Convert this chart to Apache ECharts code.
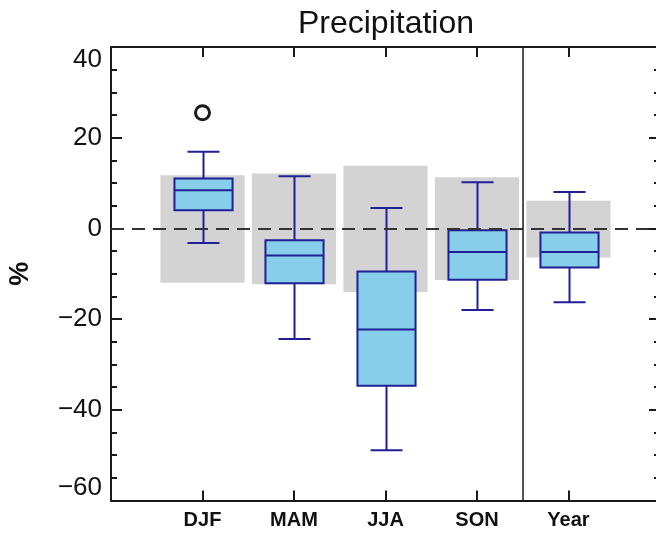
<!DOCTYPE html>
<html>
<head>
<meta charset="utf-8">
<title>Precipitation</title>
<script src="https://cdn.jsdelivr.net/npm/echarts@6/dist/echarts.min.js"></script>
<style>
  html, body { margin: 0; padding: 0; background: #ffffff; }
  #chart { width: 656px; height: 534px; }
</style>
</head>
<body>
<div id="chart"></div>
<script>
// Seasonal precipitation change (%) — box statistics per season
const categories = ['DJF', 'MAM', 'JJA', 'SON', 'Year'];

// Grey band: range of natural variability
const rangeLow  = [-12.0, -12.3, -14.0, -11.4, -6.4];
const rangeHigh = [ 11.7,  12.1,  13.8,  11.3,  6.1];

// Box-and-whisker statistics
const whiskerLow  = [ -3.2, -24.4, -48.9, -18.0, -16.3];
const quartile1   = [  4.0, -12.1, -34.7, -11.3,  -8.6];
const median      = [  8.4,  -6.0, -22.3,  -5.2,  -5.2];
const quartile3   = [ 11.0,  -2.6,  -9.5,  -0.4,  -0.9];
const whiskerHigh = [ 16.9,  11.5,   4.5,  10.2,   8.0];

// Outliers: [category index, value]
const outliers = [[0, 25.5]];

const yTicks = { min: -60, max: 40, interval: 20 };

const FONT = 'Liberation Sans, Arial, Helvetica, sans-serif';
const BOX_FILL = '#87ceeb';
const BOX_STROKE = '#1f1f96';
const BAND_FILL = '#d3d3d3';
const AXIS_COLOR = '#1a1a1a';
const BOX_WIDTH = 0.635;
const CAP_WIDTH = 0.35;
const BAND_WIDTH = 0.92;

const bandData = categories.map((c, i) => [i + 1, rangeLow[i], rangeHigh[i]]);
const boxData = categories.map((c, i) => [i + 1, whiskerLow[i], quartile1[i], median[i], quartile3[i], whiskerHigh[i]]);
const outlierData = outliers.map(o => [o[0] + 1, o[1]]);

function renderBand(params, api) {
  const x = api.value(0);
  const lo = api.coord([x, api.value(1)]);
  const hi = api.coord([x, api.value(2)]);
  const w = api.size([BAND_WIDTH, 0])[0];
  return {
    type: 'rect',
    shape: { x: lo[0] - w / 2, y: hi[1], width: w, height: lo[1] - hi[1] },
    style: { fill: BAND_FILL }
  };
}

function renderBox(params, api) {
  const x = api.value(0);
  const lo = api.coord([x, api.value(1)]);
  const q1 = api.coord([x, api.value(2)]);
  const med = api.coord([x, api.value(3)]);
  const q3 = api.coord([x, api.value(4)]);
  const hi = api.coord([x, api.value(5)]);
  const boxW = api.size([BOX_WIDTH, 0])[0];
  const capW = api.size([CAP_WIDTH, 0])[0];
  const cx = Math.round(lo[0]) + 0.5;
  const line = { stroke: BOX_STROKE, lineWidth: 2, fill: null };
  return {
    type: 'group',
    children: [
      { type: 'line', shape: { x1: cx, y1: hi[1], x2: cx, y2: q3[1] }, style: line },
      { type: 'line', shape: { x1: cx, y1: q1[1], x2: cx, y2: lo[1] }, style: line },
      { type: 'line', shape: { x1: cx - capW / 2, y1: hi[1], x2: cx + capW / 2, y2: hi[1] }, style: line },
      { type: 'line', shape: { x1: cx - capW / 2, y1: lo[1], x2: cx + capW / 2, y2: lo[1] }, style: line },
      {
        type: 'rect',
        shape: { x: cx - boxW / 2, y: q3[1], width: boxW, height: q1[1] - q3[1] },
        style: { fill: BOX_FILL, stroke: BOX_STROKE, lineWidth: 2 }
      },
      { type: 'line', shape: { x1: cx - boxW / 2, y1: med[1], x2: cx + boxW / 2, y2: med[1] }, style: line }
    ]
  };
}

const yLabel = v => (v < 0 ? '\u2212' + Math.abs(v) : String(v));

const baseX = {
  type: 'value', min: 0, max: 6, interval: 1,
  axisLine: { show: true, onZero: false, lineStyle: { color: AXIS_COLOR, width: 2 } },
  axisTick: { show: true, inside: true, length: 10, lineStyle: { color: AXIS_COLOR, width: 2 } },
  splitLine: { show: false }
};

const baseY = {
  type: 'value', min: yTicks.min, max: yTicks.max, interval: yTicks.interval,
  axisLine: { show: true, onZero: false, lineStyle: { color: AXIS_COLOR, width: 2 } },
  axisTick: { show: true, inside: true, length: 11, lineStyle: { color: AXIS_COLOR, width: 2 } },
  minorTick: { show: true, splitNumber: 4, length: 6, lineStyle: { color: AXIS_COLOR, width: 2 } },
  splitLine: { show: false },
  minorSplitLine: { show: false }
};

const chart = echarts.init(document.getElementById('chart'), null, { renderer: 'canvas' });

chart.setOption({
  animation: false,
  backgroundColor: '#ffffff',
  grid: {
    left: 111, top: 47, width: 549, height: 453.5,
    containLabel: false,
    outerBoundsMode: 'none'
  },
  graphic: [{
    type: 'text',
    x: 386, y: 24,
    style: {
      text: 'Precipitation',
      font: '32px ' + FONT,
      fill: '#111111',
      textAlign: 'center',
      textVerticalAlign: 'middle'
    }
  }],
  xAxis: [
    Object.assign({}, baseX, {
      position: 'bottom',
      axisLabel: {
        show: true, margin: 10,
        color: '#111111', fontFamily: FONT, fontSize: 20, fontWeight: 'bold',
        formatter: v => categories[v - 1] || ''
      }
    }),
    Object.assign({}, baseX, { position: 'top', axisLabel: { show: false } })
  ],
  yAxis: [
    Object.assign({}, baseY, {
      position: 'left',
      name: '%',
      nameLocation: 'middle',
      nameRotate: 90,
      nameGap: 77,
      nameTextStyle: { color: '#111111', fontFamily: FONT, fontSize: 27, fontWeight: 'bold' },
      axisLabel: {
        show: true, margin: 9,
        color: '#111111', fontFamily: FONT, fontSize: 26,
        formatter: yLabel,
        verticalAlignMinLabel: 'bottom',
        verticalAlignMaxLabel: 'top'
      }
    }),
    Object.assign({}, baseY, { position: 'right', axisLabel: { show: false } })
  ],
  series: [
    {
      name: 'Natural variability',
      type: 'custom',
      renderItem: renderBand,
      data: bandData,
      encode: { x: 0, y: [1, 2] },
      z: 1,
      silent: true
    },
    {
      name: 'Reference lines',
      type: 'line',
      data: [],
      z: 2,
      silent: true,
      markLine: {
        silent: true,
        symbol: 'none',
        label: { show: false },
        data: [
          { yAxis: 0, lineStyle: { color: '#333333', width: 2, type: [13, 8] } },
          { xAxis: 4.5, lineStyle: { color: '#1a1a1a', width: 1.5, type: 'solid' } }
        ]
      }
    },
    {
      name: 'Change',
      type: 'custom',
      renderItem: renderBox,
      data: boxData,
      encode: { x: 0, y: [1, 2, 3, 4, 5] },
      z: 3,
      silent: true
    },
    {
      name: 'Outliers',
      type: 'scatter',
      data: outlierData,
      symbol: 'circle',
      symbolSize: 14,
      itemStyle: { color: '#ffffff', borderColor: '#1a1a1a', borderWidth: 3, opacity: 1 },
      z: 4,
      silent: true
    }
  ]
});
</script>
</body>
</html>
